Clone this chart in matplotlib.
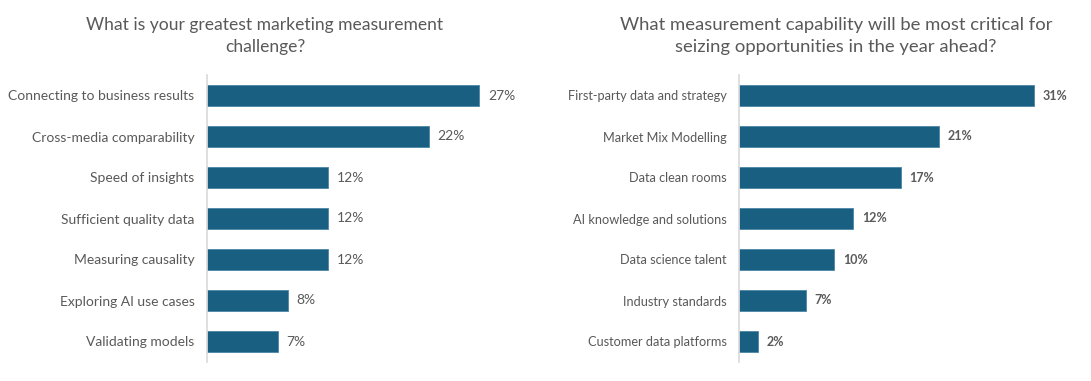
import matplotlib.pyplot as plt

plt.rcParams['font.family'] = ['Lato', 'DejaVu Sans']

# Left chart data
left_title = 'What is your greatest marketing measurement\nchallenge?'
left_labels = ['Connecting to business results', 'Cross-media comparability',
               'Speed of insights', 'Sufficient quality data',
               'Measuring causality', 'Exploring AI use cases', 'Validating models']
left_values = [27, 22, 12, 12, 12, 8, 7]

# Right chart data
right_title = 'What measurement capability will be most critical for\nseizing opportunities in the year ahead?'
right_labels = ['First-party data and strategy', 'Market Mix Modelling',
                'Data clean rooms', 'AI knowledge and solutions',
                'Data science talent', 'Industry standards', 'Customer data platforms']
right_values = [31, 21, 17, 12, 10, 7, 2]

bar_color = '#195f81'
text_color = '#595959'

fig = plt.figure(figsize=(10.91, 3.81), dpi=100)

W, H = 1091, 381
ax1 = fig.add_axes([207 / W, 1 - 362 / H, 333 / W, 287 / H])
ax2 = fig.add_axes([739 / W, 1 - 362 / H, 333 / W, 287 / H])


def draw(ax, labels, values, title, xmax, lab_size, val_size, val_weight, val_color,
         title_x, title_size):
    y = range(len(values))
    ax.barh(y, values, height=0.5, color=bar_color, edgecolor='#4a86a6', linewidth=0.6)
    ax.set_ylim(len(values) - 0.5, -0.5)
    ax.set_xlim(0, xmax)
    ax.set_yticks(list(y))
    ax.set_yticklabels(labels, fontsize=lab_size, color=text_color)
    ax.tick_params(axis='y', length=0, pad=9)
    ax.set_xticks([])
    for s in ['top', 'right', 'bottom']:
        ax.spines[s].set_visible(False)
    ax.spines['left'].set_color('#d9d9d9')
    ax.spines['left'].set_linewidth(1.2)
    for yi, v in zip(y, values):
        ax.text(v + xmax * 0.026, yi, f'{v}%', va='center', ha='left',
                fontsize=val_size, color=val_color, fontweight=val_weight)
    fig.text(title_x / W, 1 - 36 / H, title, ha='center', va='center',
             fontsize=title_size, color=text_color, linespacing=1.5)


draw(ax1, left_labels, left_values, left_title, 33, 10.0, 10, 'normal', text_color, 265, 12.6)
draw(ax2, right_labels, right_values, right_title, 35, 9.2, 9, 'bold', '#5a5a5a', 836, 13.3)

fig.savefig('out.png', dpi=100)
